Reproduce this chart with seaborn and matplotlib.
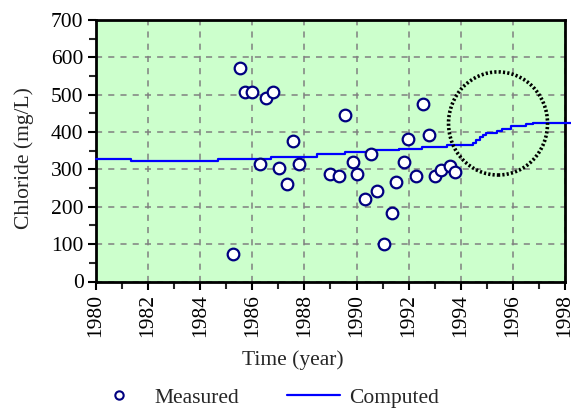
import numpy as np
import pandas as pd
import matplotlib
matplotlib.use("Agg")
import matplotlib.pyplot as plt
import seaborn as sns
from matplotlib.patches import Ellipse
from matplotlib.lines import Line2D
from matplotlib.ticker import MultipleLocator

# Measured chloride data
measured_year = [1985.26, 1985.51, 1985.73, 1986.00, 1986.30, 1986.52, 1986.78, 1987.01,
                 1987.33, 1987.55, 1987.80, 1988.97, 1989.31, 1989.55, 1989.86, 1990.03,
                 1990.34, 1990.56, 1990.80, 1991.04, 1991.35, 1991.52, 1991.83, 1991.98,
                 1992.30, 1992.55, 1992.78, 1993.01, 1993.25, 1993.58, 1993.79]
measured_value = [74, 572, 506, 506, 315, 490, 506, 305,
                  260, 376, 315, 287, 282, 446, 321, 288,
                  222, 342, 243, 101, 183, 266, 321, 381,
                  282, 474, 391, 282, 299, 310, 293]

# Computed (step) series
computed_year = [1980.0, 1981.36, 1984.69, 1986.73, 1988.48, 1989.55, 1990.60, 1991.63,
                 1992.50, 1993.47, 1994.47, 1994.60, 1994.72, 1994.85, 1994.97, 1995.40,
                 1995.59, 1995.92, 1996.52, 1996.78, 1998.25]
computed_value = [329, 323, 329, 333, 340, 346, 352, 356,
                  361, 366, 372, 379, 386, 392, 398, 404,
                  408, 415, 421, 425, 425]

# Highlight circle annotation
circle_center = (1995.43, 423)
circle_width = 3.8
circle_height = 276

x_ticks = list(range(1980, 1999, 2))
y_ticks = list(range(0, 701, 100))

sns.set_theme(style="ticks")
plt.rcParams["font.family"] = ["Liberation Serif", "DejaVu Serif"]

fig = plt.figure(figsize=(5.71, 4.12), dpi=100)
ax = fig.add_axes([96 / 571, 1 - 281.5 / 412, (565 - 96) / 571, (281.5 - 20) / 412])
ax.set_facecolor("#CCFFCC")

mdf = pd.DataFrame({"year": measured_year, "value": measured_value})
cdf = pd.DataFrame({"year": computed_year, "value": computed_value})

sns.lineplot(data=cdf, x="year", y="value", ax=ax, color="#0000FF", linewidth=1.6,
             drawstyle="steps-post", estimator=None, sort=False, zorder=3, clip_on=False)
sns.scatterplot(data=mdf, x="year", y="value", ax=ax, s=70, facecolor="white",
                edgecolor="#000080", linewidth=1.6, zorder=4)

ax.add_patch(Ellipse(circle_center, circle_width, circle_height, fill=False,
                     edgecolor="black", linestyle=(0, (0.6, 0.6)), linewidth=2.6, zorder=5))

ax.set_xlim(1980, 1998)
ax.set_ylim(0, 700)
ax.set_xticks(x_ticks)
ax.set_xticklabels([str(t) for t in x_ticks], rotation=90)
ax.set_yticks(y_ticks)
ax.xaxis.set_minor_locator(MultipleLocator(1))
ax.yaxis.set_minor_locator(MultipleLocator(50))
ax.tick_params(which="major", direction="out", length=6, width=1.5, labelsize=15.5, colors="black", pad=3)
ax.tick_params(which="minor", direction="out", length=5, width=1.5)
ax.grid(True, which="major", color="#808080", linestyle=(0, (4, 4)), linewidth=1.1)
for s in ax.spines.values():
    s.set_linewidth(2)
    s.set_color("black")
    s.set_visible(True)

ax.set_xlabel("Time (year)", fontsize=15.5)
ax.set_ylabel("Chloride (mg/L)", fontsize=15.5)
ax.xaxis.set_label_coords(0.42, -0.262)
ax.yaxis.set_label_coords(-0.132, 0.472)

handles = [Line2D([], [], marker="o", linestyle="none", markersize=6, markerfacecolor="white",
                  markeredgecolor="#000080", markeredgewidth=1.5),
           Line2D([], [], color="#0000FF", linewidth=1.6)]
fig.legend(handles, ["Measured", "Computed"], loc="center", bbox_to_anchor=(0.465, 0.034),
           ncol=2, frameon=False, fontsize=15.5, handlelength=2.5, columnspacing=2.2,
           handletextpad=0.4, borderpad=0.1)

fig.savefig("out.png", dpi=100)
